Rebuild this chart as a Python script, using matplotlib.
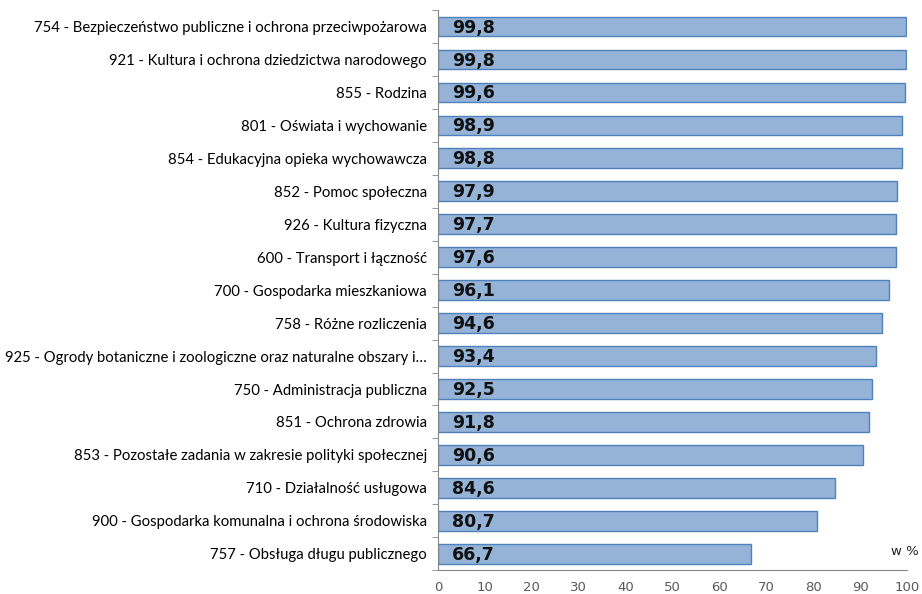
import numpy as np
import matplotlib.pyplot as plt
from matplotlib.ticker import FixedLocator

categories = [
    '754 - Bezpieczeństwo publiczne i ochrona przeciwpożarowa',
    '921 - Kultura i ochrona dziedzictwa narodowego',
    '855 - Rodzina',
    '801 - Oświata i wychowanie',
    '854 - Edukacyjna opieka wychowawcza',
    '852 - Pomoc społeczna',
    '926 - Kultura fizyczna',
    '600 - Transport i łączność',
    '700 - Gospodarka mieszkaniowa',
    '758 - Różne rozliczenia',
    '925 - Ogrody botaniczne i zoologiczne oraz naturalne obszary i…',
    '750 - Administracja publiczna',
    '851 - Ochrona zdrowia',
    '853 - Pozostałe zadania w zakresie polityki społecznej',
    '710 - Działalność usługowa',
    '900 - Gospodarka komunalna i ochrona środowiska',
    '757 - Obsługa długu publicznego',
]
values = [99.8, 99.8, 99.6, 98.9, 98.8, 97.9, 97.7, 97.6, 96.1, 94.6,
          93.4, 92.5, 91.8, 90.6, 84.6, 80.7, 66.7]
xticks = [0, 10, 20, 30, 40, 50, 60, 70, 80, 90, 100]

fig = plt.figure(figsize=(9.22, 5.94), dpi=100)
ax = fig.add_axes([0.475, 0.040, 0.509, 0.943])

y = np.arange(len(categories))
ax.barh(y, values, height=0.6, color='#95B3D7', edgecolor='#4F81BD', linewidth=1)

for yi, v in zip(y, values):
    ax.text(3, yi + 0.03, f'{v:.1f}'.replace('.', ','), va='center', ha='left',
            fontsize=12.5, fontweight='bold', color='#111111', family='DejaVu Sans')

ax.set_xlim(0, 100)
ax.set_ylim(len(categories) - 0.5, -0.5)
ax.set_xticks(xticks)
ax.set_yticks(y)
ax.set_yticklabels(categories, fontsize=10.7, family='Lato')
ax.yaxis.set_minor_locator(FixedLocator(np.arange(-0.5, len(categories), 1)))
ax.tick_params(axis='y', which='major', length=0, pad=8)
ax.tick_params(axis='y', which='minor', length=4, color='#868686', direction='out')
ax.tick_params(axis='x', length=0, labelsize=9.5, labelcolor='#595959', pad=8)

for side in ['top', 'right']:
    ax.spines[side].set_visible(False)
for side in ['left', 'bottom']:
    ax.spines[side].set_color('#868686')

ax.text(0.966, 0.033, 'w %', transform=ax.transAxes, fontsize=9.5, color='#222222',
        ha='left', va='center')

fig.savefig('out.png', dpi=100)
